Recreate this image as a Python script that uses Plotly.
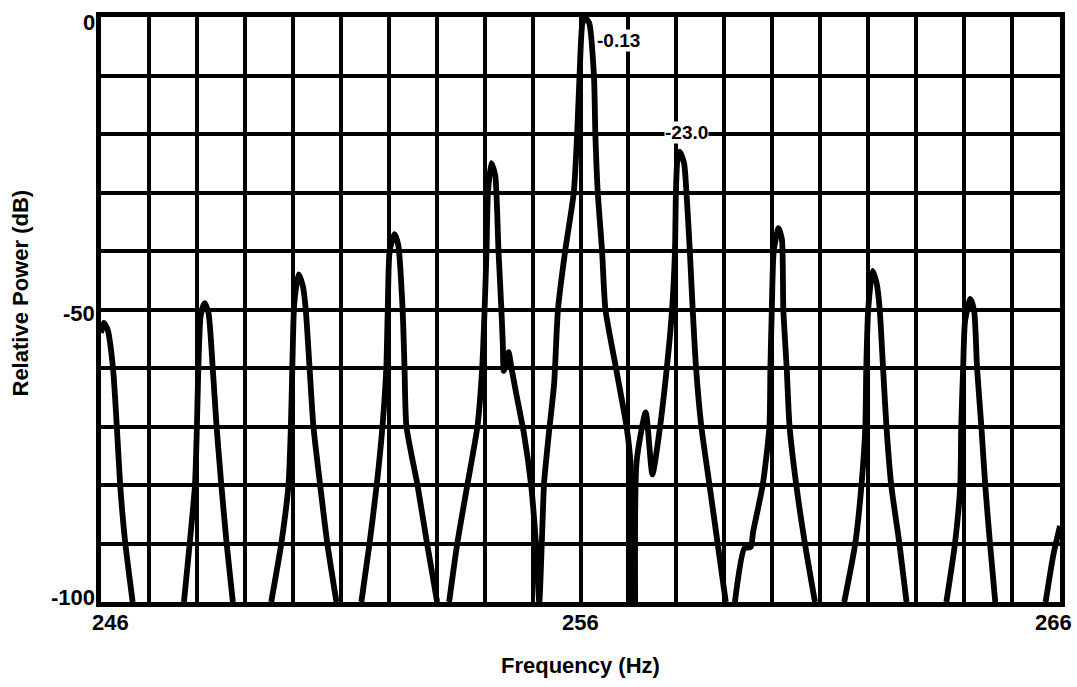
import plotly.graph_objects as go

# ---- data (frequency in Hz, relative power in dB); None marks where the trace runs along the -100 dB floor ----
freq = [
    246.00, 246.06, 246.14, 246.25, 246.33, 246.40, 246.50, 246.66, None,
    247.73, 247.85, 247.96, 248.00, 248.03, 248.08, 248.16, 248.24, 248.33, 248.41, 248.51, 248.62, 248.75, None,
    249.55, 249.76, 249.91, 249.96, 249.99, 250.03, 250.12, 250.21, 250.27, 250.35, 250.43, 250.57, 250.72, 250.91, None,
    251.43, 251.60, 251.75, 251.87, 251.95, 251.98, 252.02, 252.12, 252.20, 252.29, 252.33, 252.37, 252.60, 252.80, 253.01, None,
    253.26, 253.43, 253.64, 253.85, 253.95, 254.00, 254.04, 254.07, 254.14, 254.22, 254.29, 254.35, 254.38,
    254.40, 254.50, 254.55, 254.66, 254.82, 254.97, 255.07, 255.14,
    255.20, 255.24, 255.34, 255.45, 255.53, 255.68, 255.86, 255.93, 255.98, 256.04, 256.09, 256.18,
    256.28, 256.31, 256.36, 256.45, 256.52, 256.74, 256.96, 257.04, 257.06, None,
    257.14, 257.17, 257.36, 257.50, 257.64, 257.80, 257.91, 257.97, 257.99, 258.02, 258.07, 258.16,
    258.21, 258.28, 258.34, 258.41, 258.52, 258.69, 258.86, 259.03, None,
    259.22, 259.42, 259.55, 259.60, 259.80, 259.94, 259.96, 259.99, 260.03, 260.13, 260.20,
    260.23, 260.30, 260.36, 260.50, 260.68, 260.89, None,
    261.50, 261.73, 261.86, 261.94, 261.96, 262.00, 262.09, 262.18, 262.24, 262.31, 262.38, 262.48, 262.65, 262.80, None,
    263.63, 263.81, 263.92, 263.94, 263.98, 264.02, 264.13, 264.21, 264.27, 264.36, 264.44, 264.54, 264.65, None,
    265.70, 265.86, 266.00,
]
power = [
    -54.0, -52.3, -53.5, -60.0, -70.0, -80.0, -89.5, -100.0, None,
    -100.0, -90.0, -80.0, -70.0, -60.0, -51.0, -48.9, -50.5, -60.0, -70.0, -80.0, -90.0, -100.0, None,
    -100.0, -90.0, -80.0, -70.0, -60.0, -49.0, -44.0, -46.0, -50.0, -60.0, -70.0, -80.0, -90.0, -100.0, None,
    -100.0, -90.0, -80.0, -70.0, -60.0, -50.0, -40.0, -37.1, -39.0, -50.0, -60.0, -70.0, -80.0, -90.0, -100.0, None,
    -100.0, -90.0, -80.0, -70.0, -60.0, -50.0, -40.0, -30.0, -25.0, -27.0, -40.0, -50.0, -56.0,
    -60.5, -57.3, -59.5, -64.4, -71.2, -80.0, -90.0, -100.0,
    -88.3, -79.7, -71.2, -62.7, -50.0, -40.0, -30.0, -20.0, -10.0, -1.0, -0.13, -1.0,
    -10.0, -20.0, -30.0, -40.0, -50.0, -60.0, -70.0, -76.0, -100.0, None,
    -100.0, -76.0, -67.6, -78.2, -71.2, -60.0, -50.0, -40.0, -30.0, -24.5, -23.0, -25.0,
    -30.0, -40.0, -50.0, -60.0, -70.0, -80.0, -90.0, -100.0, None,
    -100.0, -90.8, -90.6, -88.0, -80.0, -70.0, -60.0, -50.0, -40.0, -36.1, -38.0,
    -50.0, -60.0, -70.0, -80.0, -90.0, -100.0, None,
    -100.0, -90.0, -80.0, -70.0, -60.0, -50.0, -43.4, -45.7, -50.0, -60.0, -70.0, -80.0, -90.0, -100.0, None,
    -100.0, -90.0, -80.0, -70.0, -60.0, -52.0, -48.2, -50.3, -60.0, -70.0, -80.0, -90.0, -100.0, None,
    -100.0, -92.0, -87.0,
]

x_ticks = [246, 256, 266]
x_tick_labels = ["246", "256", "266"]
y_ticks = [0, -50, -100]
y_tick_labels = ["0", "-50", "-100"]

peak_labels = ["-0.13", "-23.0"]
peak_label_x = [256.33, 257.74]
peak_label_y = [-4.0, -19.8]

x_title = "Frequency (Hz)"
y_title = "Relative Power (dB)"

FONT = "Liberation Sans, Arial, Helvetica, sans-serif"

fig = go.Figure()
fig.add_trace(go.Scatter(
    x=freq, y=power, mode="lines", connectgaps=False,
    line=dict(color="black", width=5.8, shape="spline", smoothing=0.6),
    hoverinfo="skip", showlegend=False,
))

grid = dict(showgrid=True, gridcolor="black", gridwidth=3.5,
            showline=True, linecolor="black", linewidth=5, mirror=True,
            zeroline=False, showticklabels=False, ticks="")

fig.update_xaxes(range=[246, 266], tickmode="linear", tick0=246, dtick=1, **grid)
fig.update_yaxes(range=[-100, 0], tickmode="linear", tick0=-100, dtick=10, **grid)

annotations = []
x_shift = {246: 9, 256: 0, 266: -7}
for v, t in zip(x_ticks, x_tick_labels):
    annotations.append(dict(x=v, xref="x", y=0, yref="paper", text=t, showarrow=False,
                            xanchor="center", yanchor="top", yshift=-6, xshift=x_shift[v],
                            font=dict(family=FONT, size=22, color="black", weight="bold")))
y_shift = {0: -5, -50: -4, -100: 5}
for v, t in zip(y_ticks, y_tick_labels):
    annotations.append(dict(x=0, xref="paper", y=v, yref="y", text=t, showarrow=False,
                            xanchor="right", yanchor="middle", xshift=-4, yshift=y_shift[v],
                            font=dict(family=FONT, size=22, color="black", weight="bold")))
for t, lx, ly in zip(peak_labels, peak_label_x, peak_label_y):
    annotations.append(dict(x=lx, xref="x", y=ly, yref="y", text=t, showarrow=False,
                            xanchor="left", yanchor="middle", bgcolor="white", borderpad=0,
                            font=dict(family=FONT, size=19, color="black", weight="bold")))
annotations.append(dict(x=0.5, xref="paper", y=0, yref="paper", text=x_title, showarrow=False,
                        xanchor="center", yanchor="middle", yshift=-63,
                        font=dict(family=FONT, size=22, color="black", weight="bold")))
annotations.append(dict(x=0, xref="paper", y=0.5, yref="paper", text=y_title, showarrow=False,
                        textangle=-90, xanchor="center", yanchor="middle", xshift=-81, yshift=16,
                        font=dict(family=FONT, size=22, color="black", weight="bold")))

fig.update_layout(
    width=1077, height=687,
    margin=dict(l=101, r=15, t=15, b=85),
    paper_bgcolor="white", plot_bgcolor="white",
    annotations=annotations,
    showlegend=False,
)

fig.write_html("out.html", config={"displayModeBar": False},
               post_script="document.body.style.margin='0';document.body.style.overflow='hidden';")
